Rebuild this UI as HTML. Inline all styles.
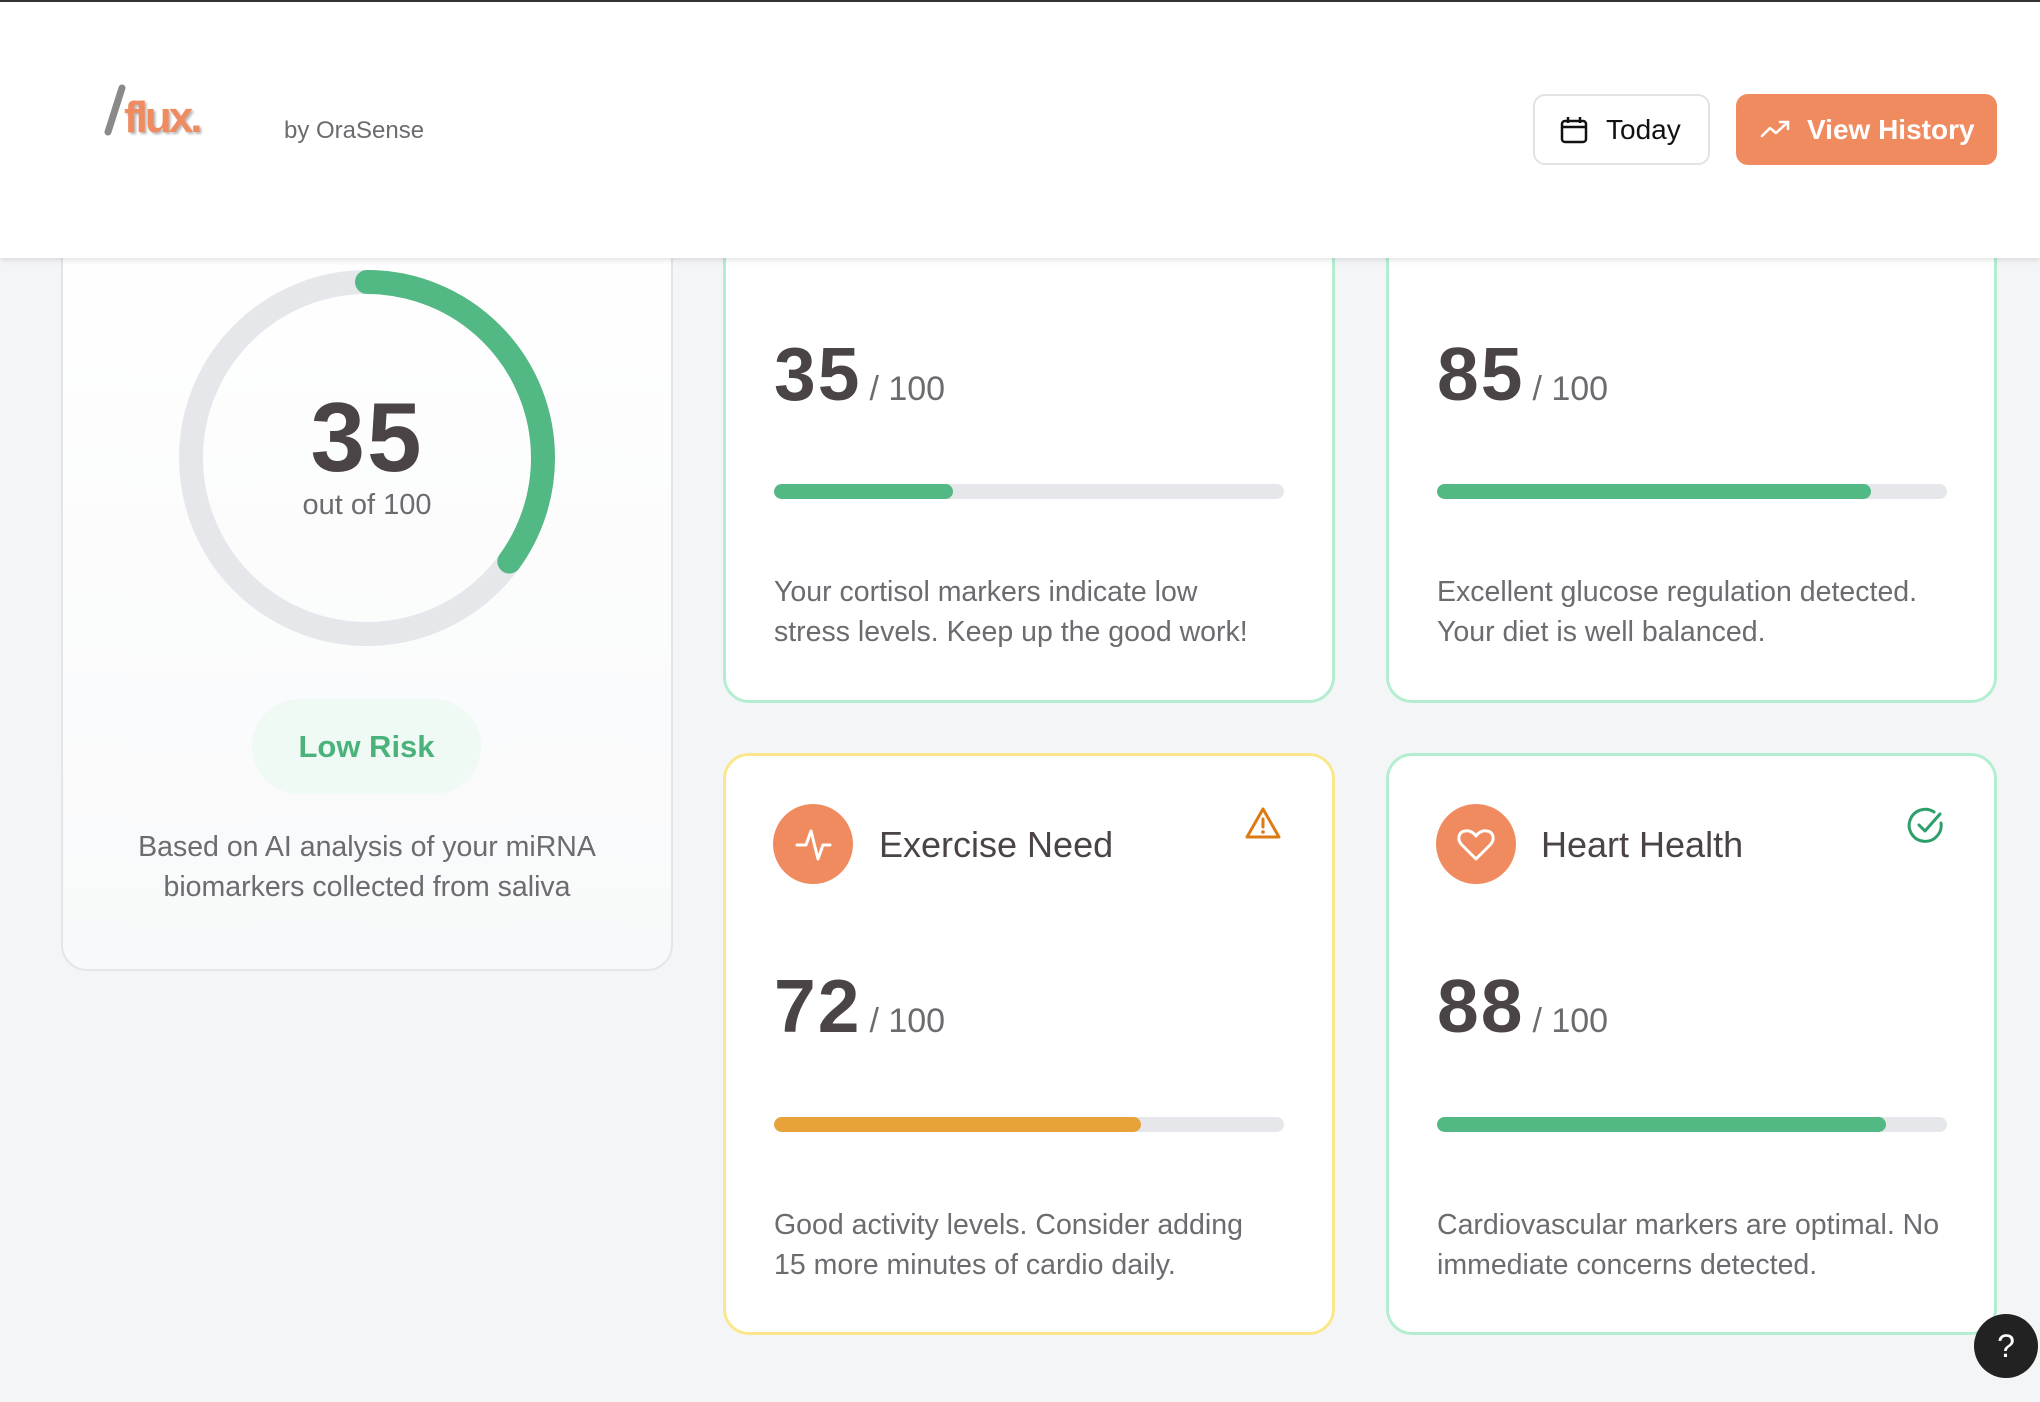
<!DOCTYPE html>
<html><head><meta charset="utf-8"><style>
*{margin:0;padding:0;box-sizing:border-box}
body{width:2040px;height:1402px;background:#f4f5f7;font-family:"Liberation Sans",sans-serif;position:relative;overflow:hidden;color:#4a4446}
.abs{position:absolute}
.card{position:absolute;background:#fff;border-radius:26px}
.num{position:absolute;font-weight:700;font-size:75px;color:#4a4446;line-height:1;letter-spacing:2px}
.den{font-size:34px;font-weight:400;color:#6b6b70;margin-left:8px;letter-spacing:0}
.bar{position:absolute;height:15px;border-radius:8px;background:#e6e7ea;overflow:hidden}
.bar div{height:100%;border-radius:8px}
.desc{position:absolute;font-size:28.5px;line-height:40px;color:#6b6b70;white-space:nowrap}
.t{position:absolute;font-size:36px;font-weight:500;color:#4a4446;line-height:1}
</style></head><body>
<div class="card" style="left:61px;top:180px;width:612px;height:791px;border:2px solid #e3e5e8;background:linear-gradient(#fff,#f8f9fa)"></div>
<svg class="abs" style="left:0;top:0" width="700" height="700">
<circle cx="367" cy="458" r="176" fill="none" stroke="#e5e7eb" stroke-width="24"/>
<circle cx="367" cy="458" r="176" fill="none" stroke="#52b884" stroke-width="24" stroke-linecap="round" stroke-dasharray="387 2000" transform="rotate(-90 367 458)"/>
</svg>
<div class="abs" style="left:167px;width:400px;top:388px;text-align:center;font-size:98px;font-weight:700;line-height:1;color:#4a4446;letter-spacing:2px">35</div>
<div class="abs" style="left:167px;width:400px;top:491px;text-align:center;font-size:29px;line-height:1;color:#6b6b70">out of 100</div>
<div class="abs" style="left:252px;top:699px;width:229px;height:95px;border-radius:48px;background:#eefaf3;color:#4cb27c;font-size:31px;font-weight:700;text-align:center;line-height:95px">Low Risk</div>
<div class="abs" style="left:67px;width:600px;top:827px;text-align:center;font-size:28.5px;line-height:40px;color:#6b6b70">Based on AI analysis of your miRNA<br>biomarkers collected from saliva</div>

<div class="card" style="left:723px;top:200px;width:612px;height:503px;border:3px solid #b4eed1"></div>
<div class="card" style="left:1386px;top:200px;width:611px;height:503px;border:3px solid #b4eed1"></div>
<div class="card" style="left:723px;top:753px;width:612px;height:582px;border:3px solid #fce68c"></div>
<div class="card" style="left:1386px;top:753px;width:611px;height:582px;border:3px solid #b4eed1"></div>

<div class="num" style="left:774px;top:337px">35<span class="den">/ 100</span></div>
<div class="bar" style="left:774px;top:484px;width:510px"><div style="width:35%;background:#52b884"></div></div>
<div class="desc" style="left:774px;top:572px">Your cortisol markers indicate low<br>stress levels. Keep up the good work!</div>

<div class="num" style="left:1437px;top:337px">85<span class="den">/ 100</span></div>
<div class="bar" style="left:1437px;top:484px;width:510px"><div style="width:85%;background:#52b884"></div></div>
<div class="desc" style="left:1437px;top:572px">Excellent glucose regulation detected.<br>Your diet is well balanced.</div>

<div class="abs" style="left:773px;top:804px;width:80px;height:80px;border-radius:50%;background:#f08a5f"></div>
<svg class="abs" style="left:773px;top:804px" width="80" height="80"><polyline points="24,41 33,41 38,27 45,55 50,41 57,41" fill="none" stroke="#fff" stroke-width="3" stroke-linecap="round" stroke-linejoin="round"/></svg>
<div class="t" style="left:879px;top:827px">Exercise Need</div>
<svg class="abs" style="left:1244px;top:806px" width="38" height="36"><path d="M19 3 L35 31 H3 Z" fill="none" stroke="#dd7a12" stroke-width="3" stroke-linejoin="round"/><line x1="19" y1="13" x2="19" y2="21" stroke="#dd7a12" stroke-width="3" stroke-linecap="round"/><circle cx="19" cy="26" r="1.8" fill="#dd7a12"/></svg>
<div class="num" style="left:774px;top:969px">72<span class="den">/ 100</span></div>
<div class="bar" style="left:774px;top:1117px;width:510px"><div style="width:72%;background:#e8a23a"></div></div>
<div class="desc" style="left:774px;top:1205px">Good activity levels. Consider adding<br>15 more minutes of cardio daily.</div>

<div class="abs" style="left:1436px;top:804px;width:80px;height:80px;border-radius:50%;background:#f08a5f"></div>
<svg class="abs" style="left:1436px;top:804px" width="80" height="80"><path d="M40 55 L26 41 C21 36 22 28 29 27 C34 26 38 29 40 32 C42 29 46 26 51 27 C58 28 59 36 54 41 Z" fill="none" stroke="#fff" stroke-width="3" stroke-linejoin="round"/></svg>
<div class="t" style="left:1541px;top:827px">Heart Health</div>
<svg class="abs" style="left:1906px;top:805px" width="40" height="40"><path d="M35 18 A16 16 0 1 1 28 7" fill="none" stroke="#2e9e6a" stroke-width="3" stroke-linecap="round"/><polyline points="13,20 19,26 34,9" fill="none" stroke="#2e9e6a" stroke-width="3" stroke-linecap="round" stroke-linejoin="round"/></svg>
<div class="num" style="left:1437px;top:969px">88<span class="den">/ 100</span></div>
<div class="bar" style="left:1437px;top:1117px;width:510px"><div style="width:88%;background:#52b884"></div></div>
<div class="desc" style="left:1437px;top:1205px">Cardiovascular markers are optimal. No<br>immediate concerns detected.</div>

<div class="abs" style="left:0;top:0;width:2040px;height:258px;background:#fff;border-top:2px solid #333;box-shadow:0 2px 6px rgba(0,0,0,0.12)"></div>
<svg class="abs" style="left:100px;top:82px" width="30" height="56"><line x1="22" y1="6" x2="8" y2="50" stroke="#8a8a8a" stroke-width="7" stroke-linecap="round"/></svg>
<div class="abs" style="left:124px;top:96px;font-size:44px;font-weight:700;color:#f08a5f;letter-spacing:-3px;line-height:1;text-shadow:2px 2px 2px #bbb">flux.</div>
<div class="abs" style="left:284px;top:119px;font-size:24px;color:#6b6b70;line-height:1">by OraSense</div>
<div class="abs" style="left:1533px;top:94px;width:177px;height:71px;border:2px solid #e3e3e3;border-radius:12px;background:#fff"></div>
<svg class="abs" style="left:1559px;top:115px" width="30" height="30"><rect x="3" y="6" width="24" height="21" rx="3" fill="none" stroke="#111" stroke-width="2.5"/><line x1="3" y1="12" x2="27" y2="12" stroke="#111" stroke-width="2.5"/><line x1="9" y1="2" x2="9" y2="8" stroke="#111" stroke-width="2.5"/><line x1="21" y1="2" x2="21" y2="8" stroke="#111" stroke-width="2.5"/></svg>
<div class="abs" style="left:1606px;top:115px;font-size:28px;font-weight:500;color:#111;line-height:30px">Today</div>
<div class="abs" style="left:1736px;top:94px;width:261px;height:71px;border-radius:12px;background:#f08a5f"></div>
<svg class="abs" style="left:1759px;top:116px" width="34" height="28"><polyline points="3,20 11,12 17,17 29,6" fill="none" stroke="#fff" stroke-width="2.5" stroke-linecap="round" stroke-linejoin="round"/><polyline points="21,6 29,6 29,13" fill="none" stroke="#fff" stroke-width="2.5" stroke-linecap="round" stroke-linejoin="round"/></svg>
<div class="abs" style="left:1807px;top:115px;font-size:28px;font-weight:700;color:#fff;line-height:30px">View History</div>

<div class="abs" style="left:1974px;top:1314px;width:64px;height:64px;border-radius:50%;background:#222;color:#fff;font-size:32px;text-align:center;line-height:64px">?</div>
</body></html>
